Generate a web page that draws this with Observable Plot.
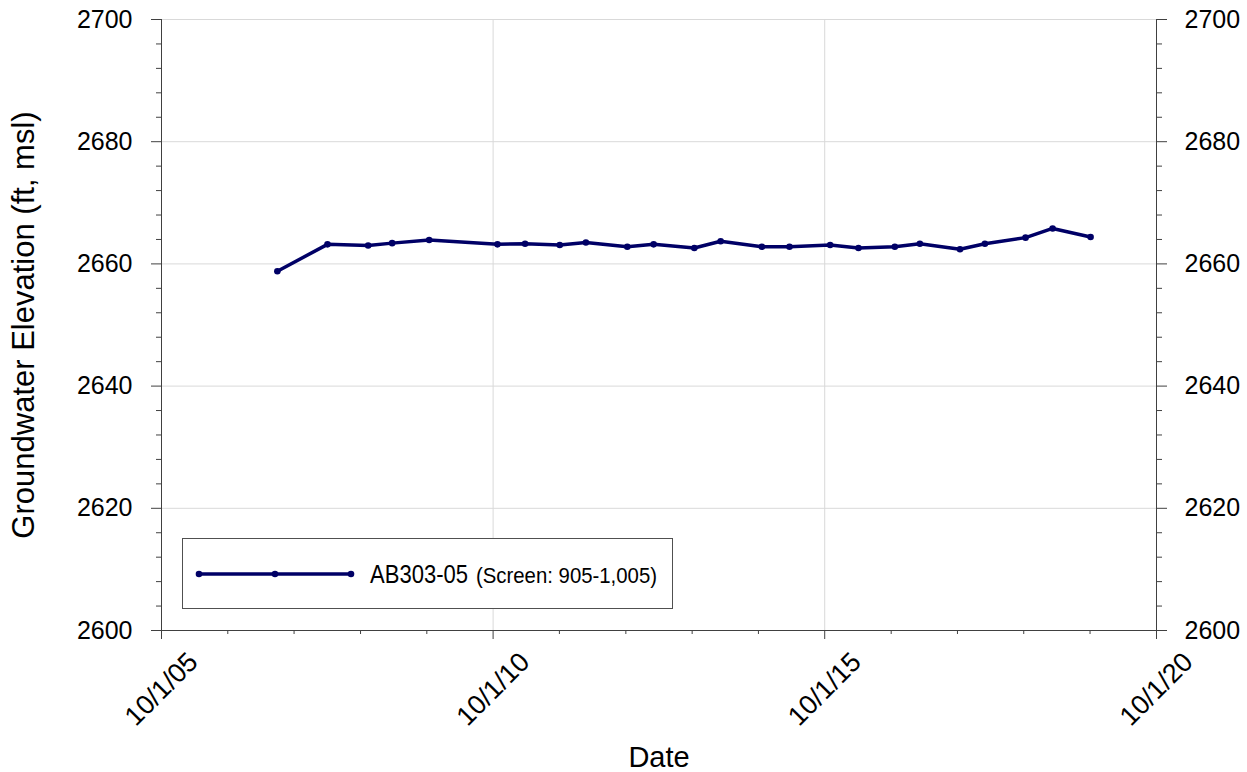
<!DOCTYPE html>
<html><head><meta charset="utf-8">
<script src="https://cdn.jsdelivr.net/npm/d3@7"></script>
<script src="https://cdn.jsdelivr.net/npm/@observablehq/plot@0.6"></script>
<style>
body{margin:0;background:#fff;font-family:"Liberation Sans",Arial,sans-serif}
#wrap{position:relative;width:1247px;height:772px}
#legend{position:absolute;left:182px;top:538px;width:491px;height:71px;border:1px solid #505050;background:#fff;box-sizing:border-box}
#legend svg{position:absolute;left:-1px;top:-1px}
</style></head><body><div id="wrap"></div>
<script>
// ---- data ----
const dates = ["2007-07-01","2008-04-02","2008-11-12","2009-03-24","2009-10-14","2010-10-25","2011-03-26","2011-10-03","2012-02-24","2012-10-09","2013-03-03","2013-10-13","2014-03-07","2014-10-20","2015-03-21","2015-10-31","2016-04-04","2016-10-21","2017-03-08","2017-10-15","2018-03-01","2018-10-11","2019-03-09","2019-10-04"];
const elevations = [2658.8,2663.2,2663.0,2663.4,2663.9,2663.2,2663.3,2663.1,2663.5,2662.8,2663.2,2662.6,2663.7,2662.8,2662.8,2663.1,2662.6,2662.8,2663.3,2662.4,2663.3,2664.3,2665.8,2664.4];
const seriesName = "AB303-05";
const screenNote = "(Screen: 905-1,005)";
const xTitle = "Date";
const yTitle = "Groundwater Elevation (ft, msl)";
const xDomain = ["2005-10-01","2020-10-01"];
const yDomain = [2600, 2700];
const xMajorTicks = ["2005-10-01","2010-10-01","2015-10-01","2020-10-01"];
const xTickLabels = ["10/1/05","10/1/10","10/1/15","10/1/20"];
const xMinorTicks = ["2006-10-01","2007-10-01","2008-10-01","2009-10-01","2011-10-01","2012-10-01","2013-10-01","2014-10-01","2016-10-01","2017-10-01","2018-10-01","2019-10-01"];
const xGrid = ["2010-10-01","2015-10-01"];
const yMajorTicks = [2600,2620,2640,2660,2680,2700];
const yGrid = [2620,2640,2660,2680,2700];
const yMinorTicks = [2604,2608,2612,2616,2624,2628,2632,2636,2644,2648,2652,2656,2664,2668,2672,2676,2684,2688,2692,2696];

// ---- build ----
const P = s => new Date(s + "T00:00:00Z");
const data = dates.map((d, i) => ({date: P(d), value: elevations[i]}));
const lineColor = "#000066";
const axisColor = "#404040";
const noText = () => "";
const FONT = "'Liberation Sans', Arial, sans-serif";

const chart = Plot.plot({
  width: 1247, height: 772,
  marginLeft: 161, marginRight: 91, marginTop: 19, marginBottom: 142,
  style: {fontFamily: FONT, fontSize: "25px", color: "#000", background: "#fff", overflow: "visible"},
  x: {type: "utc", domain: xDomain.map(P)},
  y: {domain: yDomain},
  marks: [
    Plot.gridY(yGrid, {stroke: "#d9d9d9", strokeOpacity: 1}),
    Plot.gridX(xGrid.map(P), {stroke: "#d9d9d9", strokeOpacity: 1}),
    Plot.ruleY([yDomain[0]], {stroke: axisColor}),
    Plot.ruleX([P(xDomain[0]), P(xDomain[1])], {stroke: axisColor}),
    Plot.axisY(yMajorTicks, {anchor: "left", tickSize: 10, tickPadding: 19, tickFormat: "d", label: null, stroke: axisColor, fill: "#000", fontSize: 25}),
    Plot.axisY(yMajorTicks, {anchor: "right", tickSize: 10, tickPadding: 18, tickFormat: "d", label: null, stroke: axisColor, fill: "#000", fontSize: 25}),
    Plot.axisY(yMinorTicks, {anchor: "left", tickSize: 5, tickFormat: noText, label: null, stroke: axisColor}),
    Plot.axisY(yMinorTicks, {anchor: "right", tickSize: 5, tickFormat: noText, label: null, stroke: axisColor}),
    Plot.axisX(xMajorTicks.map(P), {anchor: "bottom", tickSize: 9, tickFormat: noText, label: null, stroke: axisColor}),
    Plot.axisX(xMinorTicks.map(P), {anchor: "bottom", tickSize: 4, tickFormat: noText, label: null, stroke: axisColor}),
    Plot.text(xMajorTicks.map(P), {x: d => d, frameAnchor: "bottom", text: (d, i) => xTickLabels[i], rotate: -45, textAnchor: "end", lineAnchor: "bottom", dx: 38, dy: 33, fontSize: 27, fill: "#000"}),
    Plot.text([xTitle], {frameAnchor: "bottom", text: d => d, textAnchor: "middle", lineAnchor: "bottom", dy: 136, fontSize: 29, fill: "#000"}),
    Plot.text([yTitle], {frameAnchor: "left", text: d => d, rotate: -90, textAnchor: "middle", lineAnchor: "bottom", dx: -128, fontSize: 31, fill: "#000"}),
    Plot.line(data, {x: "date", y: "value", stroke: lineColor, strokeWidth: 3.5}),
    Plot.dot(data, {x: "date", y: "value", r: 3.3, fill: lineColor, stroke: "none"})
  ]
});
const wrap = document.getElementById("wrap");
wrap.appendChild(chart);

// legend box (inside the plot area)
const lg = document.createElement("div");
lg.id = "legend";
lg.innerHTML = `<svg width="491" height="71" xmlns="http://www.w3.org/2000/svg">
 <line x1="17" x2="169" y1="36" y2="36" stroke="${lineColor}" stroke-width="3.5"/>
 <circle cx="17" cy="36" r="3.3" fill="${lineColor}"/>
 <circle cx="93" cy="36" r="3.3" fill="${lineColor}"/>
 <circle cx="169" cy="36" r="3.3" fill="${lineColor}"/>
 <text x="188" y="45" font-size="25" textLength="98" lengthAdjust="spacingAndGlyphs" font-family="${FONT}">${seriesName}</text>
 <text x="294" y="45" font-size="21.5" textLength="181" lengthAdjust="spacingAndGlyphs" font-family="${FONT}">${screenNote}</text>
</svg>`;
wrap.appendChild(lg);
</script>
</body></html>
